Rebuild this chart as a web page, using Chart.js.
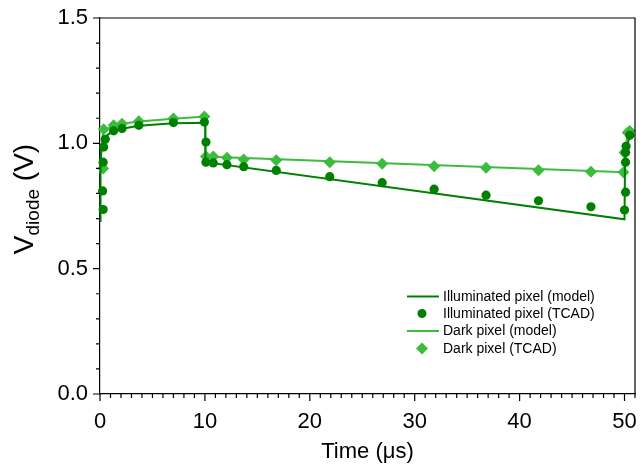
<!DOCTYPE html>
<html>
<head>
<meta charset="utf-8">
<script src="https://cdn.jsdelivr.net/npm/chart.js@4.4.1/dist/chart.umd.min.js"></script>
<style>
  html, body { margin: 0; padding: 0; background: #fff; }
  #wrap { width: 641px; height: 466px; position: relative; }
</style>
</head>
<body>
<div id="wrap"><canvas id="chart" width="641" height="466"></canvas></div>
<script>
// time in microseconds, diode voltage in volts
const illumModelT = [0, 0.05, 0.15, 0.3, 0.6, 1.3, 2.1, 3.7, 7.0, 10.05, 10.05, 50.0, 50.05, 50.2, 50.6];
const illumModelV = [0.69, 0.93, 0.99, 1.01, 1.03, 1.05, 1.058, 1.07, 1.08, 1.082, 0.925, 0.697, 0.93, 0.99, 1.035];

const illumTcadT = [0.3, 0.25, 0.3, 0.35, 0.5, 1.3, 2.1, 3.7, 7.0, 9.95, 10.1, 10.1, 10.8, 12.1, 13.7, 16.8, 21.9, 26.9, 31.85, 36.8, 41.8, 46.8, 50.0, 50.1, 50.1, 50.1, 50.15, 50.5];
const illumTcadV = [0.736, 0.81, 0.925, 0.985, 1.016, 1.05, 1.059, 1.072, 1.083, 1.085, 1.005, 0.925, 0.922, 0.915, 0.907, 0.892, 0.867, 0.843, 0.817, 0.793, 0.771, 0.747, 0.734, 0.805, 0.925, 0.963, 0.988, 1.032];

const darkModelT = [0, 0.1, 0.3, 1.3, 2.1, 3.7, 7.0, 10.0, 10.05, 50.0, 50.05, 50.3, 50.6];
const darkModelV = [0.88, 0.95, 1.05, 1.07, 1.078, 1.087, 1.098, 1.107, 0.947, 0.885, 0.96, 1.04, 1.05];

const darkTcadT = [0.3, 0.35, 1.3, 2.1, 3.7, 7.0, 9.95, 10.1, 10.8, 12.1, 13.7, 16.8, 21.9, 26.9, 31.85, 36.8, 41.8, 46.8, 49.9, 50.0, 50.3, 50.5];
const darkTcadV = [0.9, 1.056, 1.072, 1.078, 1.088, 1.099, 1.107, 0.947, 0.947, 0.942, 0.936, 0.933, 0.925, 0.919, 0.909, 0.903, 0.893, 0.887, 0.885, 0.963, 1.043, 1.049];

const seriesNames = ['Illuminated pixel (model)', 'Illuminated pixel (TCAD)', 'Dark pixel (model)', 'Dark pixel (TCAD)'];

const darkGreen = '#008000';
const lightGreen = '#3dbb3d';
const fontFamily = '"Liberation Sans", Arial, sans-serif';

function pts(ts, vs) {
    return ts.map((t, i) => ({ x: t, y: vs[i] }));
}

// stop chart.js from reserving room for label overhang
function noPad(scale) {
    scale.paddingTop = 0;
    scale.paddingBottom = 0;
    scale.paddingLeft = 0;
    scale.paddingRight = 0;
}

// ticks, frame, y title and legend are painted by hand
const decorPlugin = {
    id: 'decor',
    afterDraw(chart) {
        const ctx = chart.ctx;
        const area = chart.chartArea;
        const xs = chart.scales.x;
        const ys = chart.scales.y;
        ctx.save();
        ctx.strokeStyle = '#000';
        ctx.lineWidth = 1.2;
        ctx.beginPath();
        ctx.moveTo(area.left, area.top);
        ctx.lineTo(area.right, area.top);
        ctx.lineTo(area.right, area.bottom);
        ctx.stroke();

        ctx.beginPath();
        xs.ticks.forEach(tk => {
            const px = xs.getPixelForValue(tk.value);
            const len = Math.round(tk.value) % 10 === 0 ? 7 : 4;
            ctx.moveTo(px, area.bottom);
            ctx.lineTo(px, area.bottom + len);
        });
        ys.ticks.forEach(tk => {
            const py = ys.getPixelForValue(tk.value);
            const major = Math.abs(tk.value * 2 - Math.round(tk.value * 2)) < 1e-6;
            ctx.moveTo(area.left, py);
            ctx.lineTo(area.left - (major ? 7 : 4), py);
        });
        ctx.stroke();

        // x title
        ctx.fillStyle = '#000';
        ctx.font = '22px ' + fontFamily;
        ctx.textAlign = 'center';
        ctx.textBaseline = 'alphabetic';
        ctx.fillText('Time (\u03bcs)', (area.left + area.right) / 2, 458);

        // y title with subscript
        ctx.translate(33, 199);
        ctx.rotate(-Math.PI / 2);
        const big = '28px ' + fontFamily;
        const small = '19px ' + fontFamily;
        ctx.font = big;
        const wV = ctx.measureText('V').width;
        const wTail = ctx.measureText(' (V)').width;
        ctx.font = small;
        const wSub = ctx.measureText('diode').width;
        let x0 = -(wV + wSub + wTail) / 2;
        ctx.textAlign = 'left';
        ctx.font = big;
        ctx.fillText('V', x0, 0);
        ctx.font = small;
        ctx.fillText('diode', x0 + wV, 6);
        ctx.font = big;
        ctx.fillText(' (V)', x0 + wV + wSub, 0);
        ctx.setTransform(1, 0, 0, 1, 0, 0);

        // legend
        const rows = [296.5, 313.5, 331, 348.5];
        ctx.font = '14px ' + fontFamily;
        ctx.textBaseline = 'middle';
        ctx.textAlign = 'left';
        rows.forEach((ry, i) => {
            const col = i < 2 ? darkGreen : lightGreen;
            ctx.strokeStyle = col;
            ctx.fillStyle = col;
            if (i % 2 === 0) {
                ctx.lineWidth = 2;
                ctx.beginPath();
                ctx.moveTo(407, ry);
                ctx.lineTo(439, ry);
                ctx.stroke();
            } else if (i === 1) {
                ctx.beginPath();
                ctx.arc(422, ry, 4.5, 0, Math.PI * 2);
                ctx.fill();
            } else {
                ctx.beginPath();
                ctx.moveTo(422, ry - 6);
                ctx.lineTo(428, ry);
                ctx.lineTo(422, ry + 6);
                ctx.lineTo(416, ry);
                ctx.closePath();
                ctx.fill();
            }
            ctx.fillStyle = '#000';
            ctx.fillText(seriesNames[i], 443, ry + 0.5);
        });
        ctx.restore();
    }
};

new Chart(document.getElementById('chart'), {
    type: 'scatter',
    data: {
        datasets: [
            {
                label: seriesNames[1],
                data: pts(illumTcadT, illumTcadV),
                pointStyle: 'circle',
                pointRadius: 4.6,
                backgroundColor: darkGreen,
                borderColor: darkGreen,
                borderWidth: 0
            },
            {
                label: seriesNames[0],
                data: pts(illumModelT, illumModelV),
                showLine: true,
                pointRadius: 0,
                borderColor: darkGreen,
                borderWidth: 2
            },
            {
                label: seriesNames[3],
                data: pts(darkTcadT, darkTcadV),
                pointStyle: 'rectRot',
                pointRadius: 6,
                backgroundColor: lightGreen,
                borderColor: lightGreen,
                borderWidth: 0
            },
            {
                label: seriesNames[2],
                data: pts(darkModelT, darkModelV),
                showLine: true,
                pointRadius: 0,
                borderColor: lightGreen,
                borderWidth: 2
            }
        ]
    },
    options: {
        responsive: false,
        animation: false,
        clip: false,
        layout: { padding: { left: 0, right: 4, top: 18, bottom: 0 } },
        plugins: {
            legend: { display: false },
            tooltip: { enabled: false }
        },
        scales: {
            x: {
                type: 'linear',
                min: 0,
                max: 51,
                afterFit(scale) { scale.height = 72; noPad(scale); },
                grid: { display: false, drawTicks: false },
                border: { display: true, color: '#000', width: 1.2 },
                ticks: {
                    stepSize: 1,
                    autoSkip: false,
                    maxRotation: 0,
                    padding: 15,
                    color: '#000',
                    font: { family: fontFamily, size: 22 },
                    callback: v => (Math.round(v) % 10 === 0 ? String(Math.round(v)) : '')
                }
            },
            y: {
                type: 'linear',
                min: 0,
                max: 1.5,
                afterFit(scale) { scale.width = 100; noPad(scale); },
                grid: { display: false, drawTicks: false },
                border: { display: true, color: '#000', width: 1.2 },
                ticks: {
                    stepSize: 0.1,
                    autoSkip: false,
                    padding: 12,
                    color: '#000',
                    font: { family: fontFamily, size: 22 },
                    callback: v => (Math.abs(v * 2 - Math.round(v * 2)) < 1e-6 ? v.toFixed(1) : '')
                }
            }
        }
    },
    plugins: [decorPlugin]
});
</script>
</body>
</html>
